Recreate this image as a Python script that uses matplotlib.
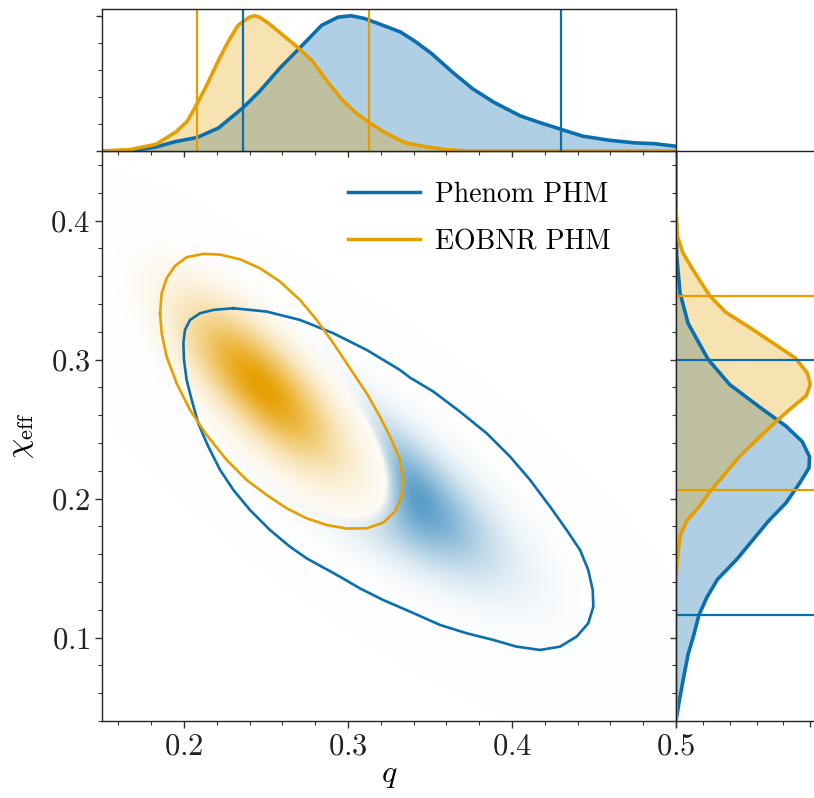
import numpy as np
import matplotlib
matplotlib.use("Agg")
import matplotlib.pyplot as plt
from matplotlib.ticker import MultipleLocator, NullFormatter

plt.rcParams['font.family'] = 'serif'
plt.rcParams['font.serif'] = ['cmr10', 'DejaVu Serif']
plt.rcParams['mathtext.fontset'] = 'cm'
plt.rcParams['axes.formatter.use_mathtext'] = True

BLUE = '#0B6FAE'
ORANGE = '#E69F00'

# ---- marginal densities (normalised to peak = 1) ----
q_phenom = [0.150, 0.170, 0.183, 0.195, 0.208, 0.221, 0.236, 0.246, 0.259, 0.272,
            0.284, 0.294, 0.302, 0.310, 0.319, 0.332, 0.341, 0.351, 0.364, 0.376,
            0.389, 0.405, 0.417, 0.430, 0.443, 0.459, 0.475, 0.487, 0.500]
p_phenom = [0.000, 0.005, 0.030, 0.070, 0.100, 0.170, 0.320, 0.440, 0.620, 0.780,
            0.930, 0.990, 1.000, 0.980, 0.940, 0.880, 0.810, 0.720, 0.580, 0.460,
            0.360, 0.260, 0.210, 0.160, 0.110, 0.080, 0.060, 0.054, 0.035]

q_eob = [0.150, 0.167, 0.183, 0.195, 0.202, 0.208, 0.214, 0.221, 0.227, 0.233,
         0.240, 0.243, 0.246, 0.252, 0.260, 0.268, 0.278, 0.287, 0.297, 0.306,
         0.313, 0.322, 0.335, 0.348, 0.360, 0.373, 0.500]
p_eob = [0.000, 0.010, 0.050, 0.140, 0.220, 0.350, 0.490, 0.670, 0.810, 0.930,
         0.990, 1.000, 0.990, 0.940, 0.860, 0.780, 0.670, 0.520, 0.370, 0.270,
         0.210, 0.140, 0.060, 0.030, 0.010, 0.000, 0.000]

chi_phenom = [0.040, 0.052, 0.068, 0.088, 0.101, 0.116, 0.129, 0.142, 0.156, 0.170,
              0.184, 0.197, 0.211, 0.222, 0.230, 0.241, 0.252, 0.266, 0.282, 0.300,
              0.326, 0.348, 0.375, 0.416, 0.450]
pc_phenom = [0.000, 0.020, 0.050, 0.090, 0.130, 0.170, 0.230, 0.310, 0.450, 0.570,
             0.690, 0.820, 0.920, 0.990, 0.995, 0.940, 0.820, 0.620, 0.400, 0.240,
             0.090, 0.030, 0.005, 0.000, 0.000]

chi_eob = [0.040, 0.142, 0.156, 0.173, 0.184, 0.195, 0.206, 0.216, 0.230, 0.244,
           0.255, 0.266, 0.274, 0.282, 0.290, 0.301, 0.312, 0.323, 0.334, 0.346,
           0.364, 0.377, 0.389, 0.411, 0.450]
pc_eob = [0.000, 0.000, 0.010, 0.030, 0.080, 0.180, 0.260, 0.350, 0.470, 0.620,
          0.740, 0.870, 0.970, 1.000, 0.980, 0.890, 0.720, 0.550, 0.370, 0.250,
          0.130, 0.050, 0.010, 0.000, 0.000]

# 90% credible intervals
q_ci_phenom = [0.236, 0.430]
q_ci_eob = [0.208, 0.313]
chi_ci_phenom = [0.116, 0.300]
chi_ci_eob = [0.206, 0.346]

# ---- 90% contours in the (q, chi_eff) plane ----
cont_q_phenom = [0.2301, 0.2179, 0.2098, 0.2037, 0.2006, 0.1996, 0.2000, 0.2016, 0.2047,
                 0.2087, 0.2148, 0.2220, 0.2301, 0.2402, 0.2524, 0.2646, 0.2748, 0.2951,
                 0.3073, 0.3215, 0.3378, 0.3561, 0.3724, 0.3886, 0.4028, 0.4171, 0.4293,
                 0.4394, 0.4465, 0.4496, 0.4492, 0.4465, 0.4415, 0.4333, 0.4232, 0.4110,
                 0.3988, 0.3846, 0.3683, 0.3520, 0.3378, 0.3317, 0.3114, 0.2911, 0.2707,
                 0.2504, 0.2301]
cont_chi_phenom = [0.3369, 0.3357, 0.3333, 0.3285, 0.3213, 0.3117, 0.2997, 0.2853, 0.2709,
                   0.2541, 0.2374, 0.2206, 0.2062, 0.1918, 0.1774, 0.1654, 0.1570, 0.1438,
                   0.1354, 0.1270, 0.1187, 0.1091, 0.1031, 0.0983, 0.0935, 0.0911, 0.0935,
                   0.1007, 0.1103, 0.1222, 0.1342, 0.1486, 0.1630, 0.1774, 0.1942, 0.2134,
                   0.2302, 0.2469, 0.2625, 0.2770, 0.2870, 0.2925, 0.3069, 0.3189, 0.3285,
                   0.3345, 0.3369]

cont_q_eob = [0.1854, 0.1864, 0.1894, 0.1945, 0.2016, 0.2118, 0.2219, 0.2341, 0.2463,
              0.2585, 0.2707, 0.2809, 0.2911, 0.3012, 0.3114, 0.3195, 0.3266, 0.3317,
              0.3337, 0.3327, 0.3287, 0.3216, 0.3114, 0.2992, 0.2870, 0.2748, 0.2626,
              0.2504, 0.2382, 0.2260, 0.2138, 0.2037, 0.1955, 0.1894, 0.1864, 0.1854]
cont_chi_eob = [0.3333, 0.3477, 0.3585, 0.3673, 0.3736, 0.3760, 0.3755, 0.3721, 0.3657,
                0.3561, 0.3429, 0.3285, 0.3117, 0.2937, 0.2757, 0.2589, 0.2422, 0.2278,
                0.2134, 0.2014, 0.1906, 0.1827, 0.1786, 0.1784, 0.1810, 0.1858, 0.1930,
                0.2026, 0.2134, 0.2278, 0.2458, 0.2637, 0.2829, 0.3021, 0.3189, 0.3333]

# 2D shading: peak position, widths and correlation
phenom_mean = [0.312, 0.220]
phenom_sigma = [0.050, 0.047]
phenom_rho = -0.78
eob_mean = [0.247, 0.281]
eob_sigma = [0.030, 0.037]
eob_rho = -0.75

qlim = (0.15, 0.5)
chilim = (0.04, 0.45)

W, H = 814, 798
fig = plt.figure(figsize=(W / 100, H / 100), dpi=100)

x0, x1 = 102 / W, 676 / W
y0, y1 = 1 - 721 / H, 1 - 151 / H
ax = fig.add_axes([x0, y0, x1 - x0, y1 - y0])
axt = fig.add_axes([x0, y1, x1 - x0, 1 - 9 / H - y1])
axr = fig.add_axes([x1, y0, 141 / W, y1 - y0])


def shade(mean, sigma, rho, color, zorder, opaque_gain, gamma):
    gq = np.linspace(qlim[0], qlim[1], 400)
    gc = np.linspace(chilim[0], chilim[1], 400)
    Q, C = np.meshgrid(gq, gc)
    a = (Q - mean[0]) / sigma[0]
    b = (C - mean[1]) / sigma[1]
    d = np.exp(-(a * a - 2 * rho * a * b + b * b) / (2 * (1 - rho ** 2)))
    rgb = np.array(matplotlib.colors.to_rgb(color))
    img = np.ones(d.shape + (4,))
    img[..., :3] = 1 - (d ** gamma)[..., None] * (1 - rgb)
    img[..., 3] = np.clip(d * opaque_gain, 0, 1)
    ax.imshow(img, extent=[qlim[0], qlim[1], chilim[0], chilim[1]], origin='lower',
              aspect='auto', interpolation='bilinear', zorder=zorder)


shade(phenom_mean, phenom_sigma, phenom_rho, BLUE, 1, 40, 1.3)
shade(eob_mean, eob_sigma, eob_rho, ORANGE, 2, 25, 1.0)

ax.plot(cont_q_phenom, cont_chi_phenom, color=BLUE, lw=1.9, zorder=3,
        solid_joinstyle='round', label='Phenom PHM')
ax.plot(cont_q_eob, cont_chi_eob, color=ORANGE, lw=1.9, zorder=4,
        solid_joinstyle='round', label='EOBNR PHM')

ax.set_xlim(*qlim)
ax.set_ylim(*chilim)
ax.xaxis.set_major_locator(MultipleLocator(0.1))
ax.xaxis.set_minor_locator(MultipleLocator(0.02))
ax.yaxis.set_major_locator(MultipleLocator(0.1))
ax.yaxis.set_minor_locator(MultipleLocator(0.02))
ax.set_xlabel(r'$q$', fontsize=23, labelpad=2)
ax.set_ylabel(r'$\chi_{\rm eff}$', fontsize=23, labelpad=10)
leg = ax.legend(loc='upper right', bbox_to_anchor=(0.93, 0.99), frameon=False,
                fontsize=20, handlelength=2.6, handletextpad=0.55,
                labelspacing=0.75)
for ln in leg.get_lines():
    ln.set_linewidth(2.5)

# top marginal
axt.fill_between(q_phenom, p_phenom, color=BLUE, alpha=0.33, lw=0)
axt.fill_between(q_eob, p_eob, color=ORANGE, alpha=0.3, lw=0)
axt.plot(q_phenom, p_phenom, color=BLUE, lw=2.6)
axt.plot(q_eob, p_eob, color=ORANGE, lw=2.6)
for v in q_ci_phenom:
    axt.axvline(v, color=BLUE, lw=1.6)
for v in q_ci_eob:
    axt.axvline(v, color=ORANGE, lw=1.6)
axt.set_xlim(*qlim)
axt.set_ylim(0, 1.05)
axt.xaxis.set_major_locator(MultipleLocator(0.1))
axt.xaxis.set_minor_locator(MultipleLocator(0.02))
axt.yaxis.set_major_locator(MultipleLocator(1.0))
axt.yaxis.set_minor_locator(MultipleLocator(0.2))
axt.xaxis.set_major_formatter(NullFormatter())
axt.yaxis.set_major_formatter(NullFormatter())

# right marginal
axr.fill_betweenx(chi_phenom, pc_phenom, color=BLUE, alpha=0.33, lw=0)
axr.fill_betweenx(chi_eob, pc_eob, color=ORANGE, alpha=0.3, lw=0)
axr.plot(pc_phenom, chi_phenom, color=BLUE, lw=2.6)
axr.plot(pc_eob, chi_eob, color=ORANGE, lw=2.6)
for v in chi_ci_phenom:
    axr.axhline(v, color=BLUE, lw=1.6)
for v in chi_ci_eob:
    axr.axhline(v, color=ORANGE, lw=1.6)
axr.set_ylim(*chilim)
axr.set_xlim(0, 1.05)
axr.yaxis.set_major_locator(MultipleLocator(0.1))
axr.yaxis.set_minor_locator(MultipleLocator(0.02))
axr.xaxis.set_major_locator(MultipleLocator(1.0))
axr.xaxis.set_minor_locator(MultipleLocator(0.2))
axr.xaxis.set_major_formatter(NullFormatter())
axr.yaxis.set_major_formatter(NullFormatter())

for a in (ax, axt, axr):
    a.tick_params(which='major', direction='out', length=5, width=1.0,
                  labelsize=22, colors='#333333', labelcolor='#222222')
    a.tick_params(which='minor', direction='out', length=3, width=0.8, colors='#333333')
    for s in a.spines.values():
        s.set_linewidth(1.0)
        s.set_color('#222222')
for a in (axt, axr):
    a.tick_params(which='major', length=4)

fig.savefig('out.png', dpi=100)
